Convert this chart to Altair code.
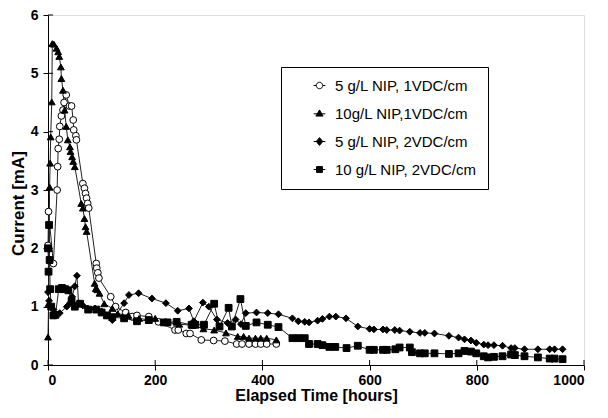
import altair as alt
import pandas as pd

names = ["5 g/L NIP, 1VDC/cm", "10g/L NIP,1VDC/cm", "5 g/L NIP, 2VDC/cm", "10 g/L NIP, 2VDC/cm"]

# 5 g/L NIP, 1VDC/cm (open circles)
h1 = [0, 1, 10, 17, 18, 19, 21, 22, 25, 28, 30, 34, 40, 44, 47, 48, 52, 53, 65, 68,
      70, 72, 74, 76, 90, 91, 93, 95, 117, 126, 145, 157, 166, 188, 206, 237, 243, 258, 265, 286,
      309, 330, 352, 362, 375, 387, 397, 408, 426]
c1 = [2.05, 2.63, 1.74, 3.0, 3.4, 3.71, 3.87, 4.09, 4.27, 4.37, 4.5, 4.63, 4.44, 4.44, 4.2, 4.03, 3.93, 3.86, 3.11, 3.03,
      2.94, 2.86, 2.77, 2.69, 1.74, 1.66, 1.58, 1.49, 1.17, 1.0, 0.9, 0.83, 0.85, 0.83, 0.74, 0.6, 0.6, 0.54, 0.54, 0.43,
      0.42, 0.41, 0.36, 0.36, 0.36, 0.36, 0.36, 0.36, 0.36]

# 10g/L NIP,1VDC/cm (triangles)
h2 = [0, 1, 2, 3, 4, 5, 7, 8, 11, 16, 19, 21, 24, 25, 28, 31, 34, 37, 41, 42,
      45, 47, 50, 62, 65, 68, 70, 72, 87, 89, 92, 96, 105, 120, 130, 150, 170, 188, 200, 220,
      245, 270, 290, 310, 332, 354, 365, 375, 387, 397, 408, 426]
c2 = [0.48, 1.05, 2.0, 3.05, 3.46, 3.91, 4.51, 5.51, 5.5, 5.43, 5.37, 5.29, 5.11, 4.91, 4.71, 4.37, 4.09, 3.86, 3.74, 3.66,
      3.57, 3.49, 3.40, 2.77, 2.69, 2.51, 2.37, 2.29, 1.40, 1.31, 1.29, 1.23, 1.05, 0.97, 0.88, 0.85, 0.8, 0.77, 0.8, 0.73,
      0.7, 0.68, 0.62, 0.6, 0.55, 0.49, 0.49, 0.46, 0.46, 0.46, 0.46, 0.43]

# 5 g/L NIP, 2VDC/cm (diamonds)
h3 = [0, 2, 5, 10, 22, 35, 41, 45, 50, 54, 57, 65, 74, 88, 100, 110, 120, 142, 151, 169,
      194, 220, 242, 263, 272, 289, 300, 315, 335, 350, 360, 369, 389, 410, 430, 456, 467, 479, 487, 503,
      512, 525, 537, 556, 578, 600, 608, 625, 632, 647, 656, 675, 694, 703, 721, 748, 766, 777, 789, 799,
      813, 821, 832, 848, 864, 871, 889, 914, 936, 945, 960]
c3 = [1.25, 1.1, 1.0, 0.95, 0.89, 1.0, 1.06, 1.17, 1.35, 1.53, 1.06, 1.02, 0.97, 0.97, 0.92, 0.85, 0.77, 1.06, 1.2, 1.23,
      1.14, 1.06, 0.93, 0.97, 0.75, 1.07, 1.0, 0.78, 0.72, 0.78, 0.7, 0.89, 0.9, 0.89, 0.87, 0.8, 0.75, 0.74, 0.73, 0.76,
      0.79, 0.83, 0.83, 0.8, 0.66, 0.62, 0.61, 0.61, 0.6, 0.6, 0.59, 0.57, 0.55, 0.55, 0.54, 0.5, 0.47, 0.44, 0.42, 0.38,
      0.35, 0.34, 0.34, 0.33, 0.29, 0.29, 0.27, 0.27, 0.27, 0.27, 0.27]

# 10 g/L NIP, 2VDC/cm (squares)
h4 = [0, 1, 2, 3, 4, 6, 10, 14, 20, 26, 32, 38, 44, 50, 60, 75, 90, 100, 110, 120,
      142, 166, 188, 216, 223, 240, 268, 275, 291, 310, 320, 337, 343, 359, 369, 389, 410, 430, 456, 467,
      479, 487, 503, 512, 525, 536, 557, 578, 600, 608, 625, 632, 648, 656, 675, 679, 694, 703, 721, 748,
      766, 777, 789, 799, 813, 821, 832, 848, 864, 871, 889, 914, 936, 945, 960]
c4 = [2.0, 1.6, 2.4, 1.8, 1.3, 1.0, 0.85, 0.86, 1.3, 1.32, 1.3, 1.28, 1.1, 1.0, 1.05, 0.95, 0.95, 0.9, 0.85, 0.82,
      0.8, 0.75, 0.77, 0.73, 0.73, 0.74, 0.69, 0.69, 0.69, 1.05, 0.66, 0.98, 0.66, 1.13, 0.67, 0.73, 0.69, 0.65, 0.46, 0.46,
      0.46, 0.36, 0.36, 0.34, 0.31, 0.31, 0.29, 0.33, 0.26, 0.26, 0.26, 0.26, 0.27, 0.3, 0.3, 0.22, 0.2, 0.2, 0.2, 0.19,
      0.2, 0.24, 0.23, 0.2, 0.15, 0.13, 0.14, 0.15, 0.18, 0.17, 0.15, 0.13, 0.11, 0.11, 0.1]

x_ticks = [0, 200, 400, 600, 800, 1000]
y_ticks = [0, 1, 2, 3, 4, 5, 6]

shapes = ["circle", "triangle-up", "diamond", "square"]
fills = ["white", "black", "black", "black"]
legend_paths = [
    "M-1.8,0L-1,0M1,0L1.8,0M1,0A1,1,0,1,1,-1,0A1,1,0,1,1,1,0Z",
    "M-1.8,0.1L1.8,0.1M0,-1.1L1.1,0.8L-1.1,0.8Z",
    "M-1.8,0L1.8,0M0,-1.2L1,0L0,1.2L-1,0Z",
    "M-1.8,0L1.8,0M-0.9,-0.9L0.9,-0.9L0.9,0.9L-0.9,0.9Z",
]

rows = []
for name, hs, cs in zip(names, [h1, h2, h3, h4], [c1, c2, c3, c4]):
    for k, (h, c) in enumerate(zip(hs, cs)):
        rows.append({"series": name, "t": h, "cur": c, "idx": k})
df = pd.DataFrame(rows)

W, H = 536, 350
FONT = "Liberation Sans"

xenc = alt.X("t:Q", scale=alt.Scale(domain=[0, 1000], nice=False),
             axis=alt.Axis(values=x_ticks, format="d", title="Elapsed Time [hours]", grid=False,
                           labelFontSize=14, labelFontWeight="bold", labelFont=FONT,
                           titleFontSize=16, titleFontWeight="bold", titleFont=FONT,
                           tickSize=5, labelPadding=3, titlePadding=0,
                           domainColor="black", tickColor="black", labelColor="black", titleColor="black"))
yenc = alt.Y("cur:Q", scale=alt.Scale(domain=[0, 6], nice=False),
             axis=alt.Axis(values=y_ticks, format="d", title="Current [mA]", grid=False,
                           labelFontSize=14, labelFontWeight="bold", labelFont=FONT,
                           titleFontSize=17, titleFontWeight="bold", titleFont=FONT,
                           tickSize=5, labelPadding=5, titlePadding=3, titleY=188,
                           domainColor="black", tickColor="black", labelColor="black", titleColor="black"))

base = alt.Chart(df)

lines = base.mark_line(color="#222", strokeWidth=1).encode(
    x=xenc, y=yenc, detail="series:N", order="idx:Q")

points = base.mark_point(filled=True, stroke="black", strokeWidth=1, size=46, opacity=1).encode(
    x="t:Q", y="cur:Q",
    shape=alt.Shape("series:N", scale=alt.Scale(domain=names, range=shapes), legend=None),
    fill=alt.Fill("series:N", scale=alt.Scale(domain=names, range=fills), legend=None),
)

leg = alt.Legend(title=None, orient="none", legendX=233, legendY=52, padding=11,
                 strokeColor="black", fillColor="white",
                 labelFont=FONT, labelFontSize=15, labelColor="black",
                 labelExpr="datum.label + '\u00a0\u00a0\u00a0\u00a0'",
                 symbolSize=42, symbolStrokeWidth=1, symbolStrokeColor="black", symbolOpacity=1,
                 rowPadding=12, symbolOffset=20, labelOffset=8)

legend_layer = alt.Chart(df).transform_filter("false").mark_point(
    filled=True, stroke="black", strokeWidth=1, size=42, opacity=1).encode(
    shape=alt.Shape("series:N", scale=alt.Scale(domain=names, range=legend_paths), legend=leg),
    fill=alt.Fill("series:N", scale=alt.Scale(domain=names, range=fills), legend=leg),
    stroke=alt.Stroke("series:N", scale=alt.Scale(domain=names, range=["black"] * 4), legend=leg),
)

xt = pd.DataFrame({"t": x_ticks})
yt = pd.DataFrame({"cur": y_ticks})
xin = alt.Chart(xt).mark_rule(color="black", strokeWidth=1).encode(
    x="t:Q", y=alt.value(H), y2=alt.value(H - 5))
yin = alt.Chart(yt).mark_rule(color="black", strokeWidth=1).encode(
    y="cur:Q", x=alt.value(0), x2=alt.value(5))

chart = alt.layer(lines, points, xin, yin, legend_layer).resolve_scale(
    shape="independent", fill="independent", stroke="independent"
).properties(
    width=W, height=H,
    autosize=alt.AutoSizeParams(type="none"),
    padding={"left": 40, "top": 7, "right": 16, "bottom": 45},
).configure_view(stroke="#666", strokeWidth=1).configure(background="white")

chart.save("out.html", embed_options={"renderer": "svg", "actions": False})
